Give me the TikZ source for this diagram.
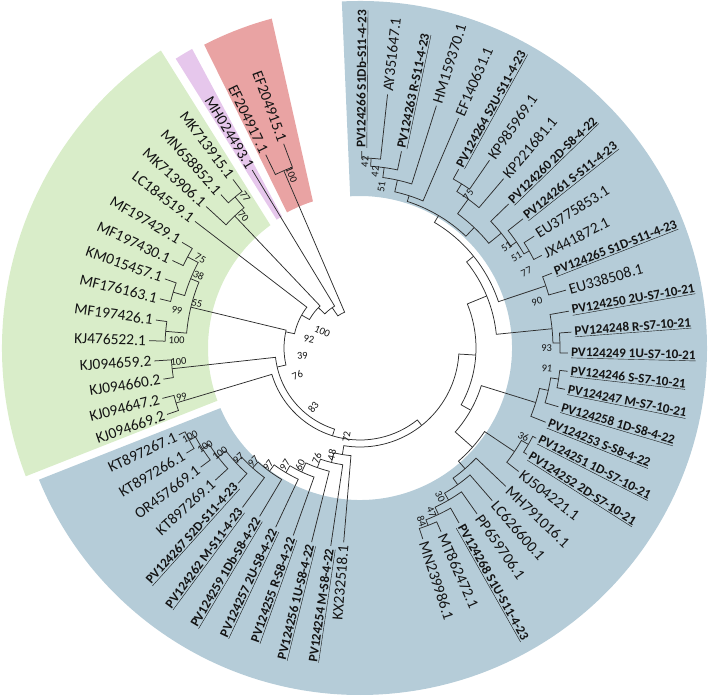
\documentclass[tikz,border=0pt]{standalone}
\usepackage{fontspec}
\setmainfont{Carlito}
\definecolor{blueC}{RGB}{181,204,216}
\definecolor{greenC}{RGB}{217,237,201}
\definecolor{redC}{RGB}{233,163,163}
\definecolor{pinkC}{RGB}{230,199,236}
\definecolor{lineC}{RGB}{45,45,45}
\definecolor{txtC}{RGB}{20,20,20}
\tikzset{
 tree/.style={draw=lineC, line width=0.75bp},
 lab/.style={inner sep=0pt, font=\fontsize{15.5}{16}\selectfont, text=txtC},
 blab/.style={inner sep=0pt, font=\fontsize{13.2}{14}\selectfont\bfseries, text=txtC},
 bs/.style={inner sep=0pt, font=\fontsize{10.5}{11}\selectfont, text=txtC},
}
% clade: #1 node radius, #2/#3 child1 angle/radius, #4/#5 child2 angle/radius
\newcommand\cl[5]{\draw[tree] (#2:#3bp) -- (#2:#1bp) arc[start angle=#2, end angle=#4, radius=#1bp] -- (#4:#5bp);}
\newcommand\LR[5]{\pgfmathsetmacro\lr{#3+3}\node[#4, rotate=#2, anchor=west] (#1) at (#2:\lr bp) {#5};}
\newcommand\LL[5]{\pgfmathsetmacro\lr{#3+3}\pgfmathsetmacro\rot{#2+180}\node[#4, rotate=\rot, anchor=east] (#1) at (#2:\lr bp) {#5};}
\newcommand\bsR[3]{\node[bs, rotate=#1] at (#1:#2bp) {#3};}
\newcommand\bsL[3]{\pgfmathsetmacro\rot{#1+180}\node[bs, rotate=\rot] at (#1:#2bp) {#3};}
\begin{document}
\begin{tikzpicture}
\useasboundingbox (0,0) rectangle (709bp,696bp);
\clip (0,0) rectangle (709bp,696bp);
\begin{scope}[shift={(360bp,348bp)}]
% coloured sectors
\fill[blueC] (-156.7:152bp) arc[start angle=-156.7,end angle=93.7,radius=152bp] -- (93:347bp) arc[start angle=93,end angle=-157.7,radius=347bp] -- cycle;
\fill[greenC] (126.1:152bp) arc[start angle=126.1,end angle=200.3,radius=152bp] -- (201:358bp) arc[start angle=201,end angle=123.8,radius=358bp] -- cycle;
\fill[pinkC] (120.7:153bp) arc[start angle=120.7,end angle=123,radius=153bp] -- (122.5:343bp) arc[start angle=122.5,end angle=119.3,radius=343bp] -- cycle;
\fill[redC] (107.8:154bp) arc[start angle=107.8,end angle=118.3,radius=154bp] -- (117.2:341bp) arc[start angle=117.2,end angle=105,radius=341bp] -- cycle;

% ---------- blue clade, top ----------
\cl{190}{89.5}{197}{83.8}{255}
\cl{182}{86.65}{190}{78.1}{201}
\cl{172}{82.375}{182}{72.5}{254}
\cl{160}{77.44}{172}{66.8}{250}
\cl{193}{61.1}{204}{55.4}{228}
\cl{184}{58.25}{193}{49.7}{222}
\cl{195}{32.7}{207}{27}{204}
\cl{189}{38.4}{208}{29.85}{195}
\cl{182}{44.1}{207}{34.13}{189}
\cl{166}{53.98}{184}{39.11}{182}
\cl{154}{72.12}{160}{46.54}{166}
\cl{196}{21.3}{206}{15.7}{214}
\cl{146}{59.33}{154}{18.5}{196}
\cl{200}{4.3}{212}{-1.4}{208}
\cl{193}{10}{212}{1.45}{200}
\cl{137}{38.92}{146}{5.73}{193}
% ---------- blue clade, right ----------
\cl{201}{-6.4}{209}{-11.4}{209}
\cl{193}{-8.9}{201}{-16.5}{207}
\cl{184}{-12.7}{193}{-21.8}{200}
\cl{194}{-27.1}{198}{-32.5}{198}
\cl{186}{-29.8}{194}{-37.9}{201}
\cl{190}{-66.2}{201}{-71.8}{201}
\cl{184}{-60.5}{201}{-69}{190}
\cl{176}{-54.8}{203}{-64.75}{184}
\cl{168}{-49.1}{202}{-59.78}{176}
\cl{160}{-43.5}{201}{-54.44}{168}
\cl{150}{-33.85}{186}{-48.97}{160}
\cl{127}{-17.25}{184}{-41.41}{150}
\cl{116}{22.32}{137}{-29.33}{127}
% ---------- blue clade, bottom ladder ----------
\cl{194}{-148.8}{203}{-154.4}{201}
\cl{187}{-143.2}{199}{-151.6}{194}
\cl{179}{-137.6}{196}{-147.4}{187}
\cl{169}{-132}{182}{-142.5}{179}
\cl{161}{-126.4}{198}{-137.25}{169}
\cl{153}{-120.8}{196}{-131.83}{161}
\cl{145}{-115.2}{198}{-126.3}{153}
\cl{137}{-109.6}{199}{-120.75}{145}
\cl{127}{-104}{200}{-115.2}{137}
\cl{118}{-98.4}{200}{-109.6}{127}
\cl{108}{-94.8}{195}{-104}{118}
\cl{99}{-3.5}{116}{-99.4}{108}
% ---------- green, pink, red ----------
\cl{192}{199}{204}{194.3}{204}
\cl{189}{189}{199}{183.6}{206}
\cl{195}{178}{211}{172.2}{206}
\cl{195}{166.2}{206}{160.5}{207}
\cl{195}{155}{207}{149.3}{207}
\cl{183}{163.35}{195}{152.15}{195}
\cl{174}{175.1}{195}{157.75}{183}
\cl{196}{132.2}{207}{127}{211}
\cl{182}{137.4}{209}{129.6}{196}
\cl{193}{116}{215}{110.5}{218}
% ---------- backbone ----------
\cl{92}{196.65}{192}{308.55}{99}
\cl{85}{186.3}{189}{252.6}{92}
\cl{76}{166.43}{174}{192.94}{85}
\cl{67}{142.5}{208}{167.72}{76}
\cl{58}{133.5}{182}{150.61}{67}
\cl{49}{121.2}{208}{135.9}{58}
\cl{39}{113.25}{193}{124.58}{49}

% ---------- leaf labels ----------
\LR{l1}{89.5}{197}{blab}{\underline{PV124266 S1Db-S11-4-23}}
\LR{l2}{83.8}{255}{lab}{AY351647.1}
\LR{l3}{78.1}{201}{blab}{\underline{PV124263 R-S11-4-23}}
\LR{l4}{72.5}{254}{lab}{HM159370.1}
\LR{l5}{66.8}{250}{lab}{EF140631.1}
\LR{l6}{61.1}{204}{blab}{\underline{PV124264 S2U-S11-4-23}}
\LR{l7}{55.4}{228}{lab}{KP985969.1}
\LR{l8}{49.7}{222}{lab}{KP221681.1}
\LR{l9}{44.1}{207}{blab}{\underline{PV124260 2D-S8-4-22}}
\LR{l10}{38.4}{208}{blab}{\underline{PV124261 S-S11-4-23}}
\LR{l11}{32.7}{207}{lab}{EU3775853.1}
\LR{l12}{27}{204}{lab}{JX441872.1}
\LR{l13}{21.3}{206}{blab}{\underline{PV124265 S1D-S11-4-23}}
\LR{l14}{15.7}{214}{lab}{EU338508.1}
\LR{l15}{10}{212}{blab}{\underline{PV124250 2U-S7-10-21}}
\LR{l16}{4.3}{212}{blab}{\underline{PV124248 R-S7-10-21}}
\LR{l17}{-1.4}{208}{blab}{\underline{PV124249 1U-S7-10-21}}
\LR{l18}{-6.4}{209}{blab}{\underline{PV124246 S-S7-10-21}}
\LR{l19}{-11.4}{209}{blab}{\underline{PV124247 M-S7-10-21}}
\LR{l20}{-16.5}{207}{blab}{\underline{PV124258 1D-S8-4-22}}
\LR{l21}{-21.8}{200}{blab}{\underline{PV124253 S-S8-4-22}}
\LR{l22}{-27.1}{198}{blab}{\underline{PV124251 1D-S7-10-21}}
\LR{l23}{-32.5}{198}{blab}{\underline{PV124252 2D-S7-10-21}}
\LR{l24}{-37.9}{201}{lab}{KJ504221.1}
\LR{l25}{-43.5}{201}{lab}{MH791016.1}
\LR{l26}{-49.1}{202}{lab}{LC626600.1}
\LR{l27}{-54.8}{203}{lab}{PP659706.1}
\LR{l28}{-60.5}{201}{blab}{\underline{PV124268 S1U-S11-4-23}}
\LR{l29}{-66.2}{201}{lab}{MT862472.1}
\LR{l30}{-71.8}{201}{lab}{MN239986.1}
\LL{l31}{-94.8}{195}{lab}{KX232518.1}
\LL{l32}{-98.4}{200}{blab}{\underline{PV124254 M-S8-4-22}}
\LL{l33}{-104}{200}{blab}{\underline{PV124256 1U-S8-4-22}}
\LL{l34}{-109.6}{199}{blab}{\underline{PV124255 R-S8-4-22}}
\LL{l35}{-115.2}{198}{blab}{\underline{PV124257 2U-S8-4-22}}
\LL{l36}{-120.8}{196}{blab}{\underline{PV124259 1Db-S8-4-22}}
\LL{l37}{-126.4}{198}{blab}{\underline{PV124262 M-S11-4-23}}
\LL{l38}{-132}{182}{blab}{\underline{PV124267 S2D-S11-4-23}}
\LL{l39}{-137.6}{196}{lab}{KT897269.1}
\LL{l40}{-143.2}{199}{lab}{OR457669.1}
\LL{l41}{-148.8}{203}{lab}{KT897266.1}
\LL{l42}{-154.4}{201}{lab}{KT897267.1}
\LL{l43}{199}{204}{lab}{KJ094669.2}
\LL{l44}{194.3}{204}{lab}{KJ094647.2}
\LL{l45}{189}{199}{lab}{KJ094660.2}
\LL{l46}{183.6}{206}{lab}{KJ094659.2}
\LL{l47}{178}{211}{lab}{KJ476522.1}
\LL{l48}{172.2}{206}{lab}{MF197426.1}
\LL{l49}{166.2}{206}{lab}{MF176163.1}
\LL{l50}{160.5}{207}{lab}{KM015457.1}
\LL{l51}{155}{207}{lab}{MF197430.1}
\LL{l52}{149.3}{207}{lab}{MF197429.1}
\LL{l53}{142.5}{208}{lab}{LC184519.1}
\LL{l54}{137.4}{209}{lab}{MK713906.1}
\LL{l55}{132.2}{207}{lab}{MN658852.1}
\LL{l56}{127}{211}{lab}{MK713915.1}
\LL{l57}{121.2}{208}{lab}{MH024493.1}
\LL{l58}{116}{215}{lab}{EF204917.1}
\LL{l59}{110.5}{218}{lab}{EF204915.1}

% ---------- bootstrap values ----------
\bsR{88.5}{186.4}{42}
\bsR{85.1}{177}{42}
\bsR{82.4}{162.8}{51}
\bsR{54.7}{187.5}{75}
\bsR{34.6}{178}{51}
\bsR{30.2}{181}{51}
\bsR{24.6}{183}{77}
\bsR{14.7}{183}{90}
\bsR{-0.1}{186.7}{93}
\bsR{-6.2}{188}{91}
\bsR{-28.5}{186}{36}
\bsR{-61.7}{169}{30}
\bsR{-66.4}{178.7}{47}
\bsR{-70.4}{184}{84}
\bsL{-152.5}{191.8}{100}
\bsL{-147.5}{183.7}{100}
\bsL{-143}{175.2}{100}
\bsL{-137.8}{164.3}{97}
\bsL{-133.2}{155.9}{97}
\bsL{-128.1}{148.7}{97}
\bsL{-122.7}{139}{97}
\bsL{-117.1}{131.5}{60}
\bsL{-111.4}{118.5}{76}
\bsL{-104.8}{110.7}{48}
\bsL{-98.6}{89.7}{72}
\bsL{184.3}{182}{100}
\bsL{195.3}{185}{99}
\bsL{177.5}{183.5}{100}
\bsL{168.3}{187}{99}
\bsL{164.7}{169}{55}
\bsL{155.7}{177}{38}
\bsL{150.7}{183}{75}
\bsL{131.6}{175.6}{70}
\bsL{127.2}{190}{77}
\bsL{111.6}{186}{100}
\bsL{156.6}{41}{100}
\bsL{170}{51.8}{92}
\bsL{187.6}{58.2}{39}
\bsL{203.3}{68.2}{76}
\bsL{231.8}{75.5}{83}
\end{scope}
\end{tikzpicture}
\end{document}
